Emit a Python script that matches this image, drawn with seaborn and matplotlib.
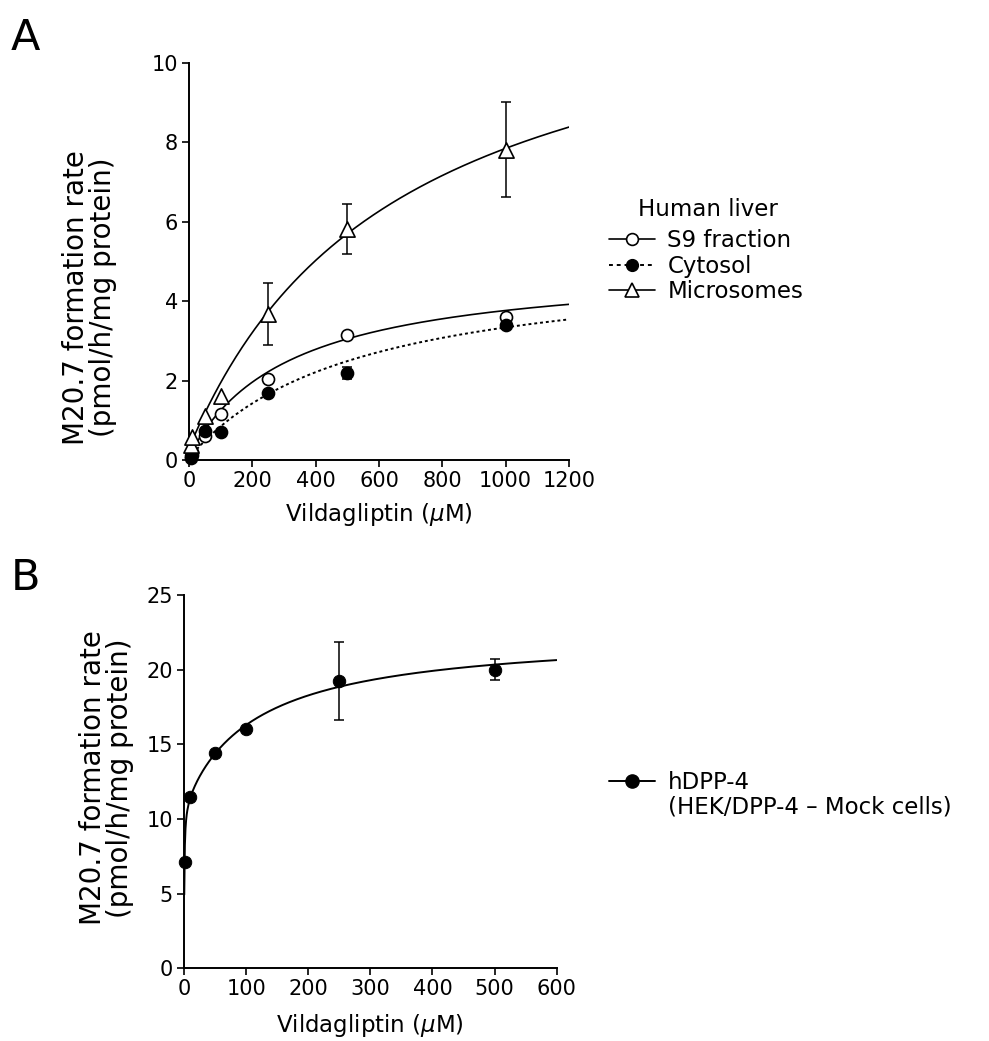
import numpy as np
import pandas as pd
import matplotlib
matplotlib.use("Agg")
import matplotlib.pyplot as plt
import seaborn as sns
from matplotlib.lines import Line2D

# ---------------- data ----------------
conc_A = [5, 10, 50, 100, 250, 500, 1000]
s9_rate = [0.10, 0.20, 0.60, 1.15, 2.03, 3.15, 3.60]
s9_err = [0, 0, 0, 0, 0, 0, 0.05]
cyto_rate = [0.05, 0.12, 0.73, 0.71, 1.70, 2.18, 3.40]
cyto_err = [0, 0, 0, 0, 0, 0.15, 0.10]
micro_rate = [0.37, 0.58, 1.12, 1.62, 3.68, 5.82, 7.82]
micro_err = [0, 0, 0, 0, 0.78, 0.63, 1.20]

conc_B = [1, 10, 50, 100, 250, 500]
dpp4_rate = [7.1, 11.5, 14.4, 16.05, 19.25, 20.0]
dpp4_err = [0, 0, 0, 0, 2.6, 0.7]

# fitted Michaelis-Menten parameters (baseline, Vmax, Km) for the fit lines
fit_s9 = (0.10, 4.84, 320.0)
fit_cyto = (0.05, 5.04, 532.0)
fit_micro = (0.30, 12.54, 661.0)
# two-site fit for hDPP-4 (Vmax1, Km1, Vmax2, Km2)
fit_dpp4 = (11.0, 0.5, 11.5, 115.0)

xticks_A = [0, 200, 400, 600, 800, 1000, 1200]
yticks_A = [0, 2, 4, 6, 8, 10]
xticks_B = [0, 100, 200, 300, 400, 500, 600]
yticks_B = [0, 5, 10, 15, 20, 25]

# ---------------- style ----------------
sns.set_theme(style="ticks")
plt.rcParams["font.family"] = ["DejaVu Sans"]
plt.rcParams["mathtext.fontset"] = "dejavusans"
plt.rcParams["axes.linewidth"] = 1.4
plt.rcParams["axes.edgecolor"] = "black"
plt.rcParams["text.color"] = "black"
plt.rcParams["axes.labelcolor"] = "black"
plt.rcParams["xtick.color"] = "black"
plt.rcParams["ytick.color"] = "black"

TICK_FS = 15
XLABEL_FS = 16.5
YLABEL_FS = 20
LEG_FS = 16.5

fig = plt.figure(figsize=(9.89, 10.41), dpi=100)
W, H = 989.0, 1041.0
axA = fig.add_axes([189 / W, 1 - 460 / H, 380 / W, 397 / H])
axB = fig.add_axes([184 / W, 1 - 968.3 / H, 372.7 / W, 373.3 / H])

# ---------------- panel A ----------------
xs = np.linspace(0, 1200, 300)
curves = []
for name, (b, v, k) in [("S9", fit_s9), ("Cyto", fit_cyto), ("Micro", fit_micro)]:
    curves.append(pd.DataFrame({"x": xs, "y": b + v * xs / (k + xs), "s": name}))
curve_df = pd.concat(curves)

sns.lineplot(data=curve_df[curve_df.s == "S9"], x="x", y="y", ax=axA,
             color="black", lw=1.2, legend=False)
sns.lineplot(data=curve_df[curve_df.s == "Micro"], x="x", y="y", ax=axA,
             color="black", lw=1.2, legend=False)
sns.lineplot(data=curve_df[curve_df.s == "Cyto"], x="x", y="y", ax=axA,
             color="black", lw=1.4, linestyle=(0, (1.5, 1.5)), legend=False)

ptsA = pd.DataFrame({"conc": conc_A * 3,
                     "rate": s9_rate + cyto_rate + micro_rate,
                     "err": s9_err + cyto_err + micro_err,
                     "frac": ["S9 fraction"] * 7 + ["Cytosol"] * 7 + ["Microsomes"] * 7})

for frac in ["S9 fraction", "Cytosol", "Microsomes"]:
    d = ptsA[ptsA.frac == frac]
    d = d[d.err > 0]
    axA.errorbar(d.conc, d.rate, yerr=d.err, fmt="none", ecolor="black",
                 elinewidth=1.1, capsize=3.5, capthick=1.1, zorder=3, clip_on=False)

mk_style = {"S9 fraction": ("o", "white", 75),
            "Cytosol": ("o", "black", 75),
            "Microsomes": ("^", "white", 120)}
for frac, (m, fc, s) in mk_style.items():
    d = ptsA[ptsA.frac == frac]
    sns.scatterplot(data=d, x="conc", y="rate", ax=axA, marker=m, s=s,
                    facecolor=fc, edgecolor="black", linewidth=1.2,
                    zorder=4, clip_on=False, legend=False)

axA.set_xlim(0, 1200)
axA.set_ylim(0, 10)
axA.set_xticks(xticks_A)
axA.set_yticks(yticks_A)
axA.set_xlabel(r"Vildagliptin ($\mu$M)", fontsize=XLABEL_FS, labelpad=7)
axA.set_ylabel("M20.7 formation rate\n(pmol/h/mg protein)", fontsize=YLABEL_FS,
               linespacing=0.95)
axA.yaxis.set_label_coords(-0.19, 0.41)

legA_handles = [
    Line2D([], [], color="black", lw=1.2, marker="o", markersize=8.5,
           markerfacecolor="white", markeredgecolor="black", markeredgewidth=1.2),
    Line2D([], [], color="black", lw=1.4, linestyle=(0, (2, 2)), marker="o",
           markersize=8.5, markerfacecolor="black", markeredgecolor="black"),
    Line2D([], [], color="black", lw=1.2, marker="^", markersize=10.5,
           markerfacecolor="white", markeredgecolor="black", markeredgewidth=1.2),
]
axA.legend(legA_handles, ["S9 fraction", "Cytosol", "Microsomes"],
           loc="upper left",
           bbox_to_anchor=(609 / W, 1 - 229 / H), bbox_transform=fig.transFigure,
           frameon=False, fontsize=LEG_FS,
           handlelength=2.0, handletextpad=0.55, labelspacing=0.12,
           borderaxespad=0, borderpad=0)
fig.text(708 / W, 1 - 210 / H, "Human liver", fontsize=LEG_FS,
         ha="center", va="center")

# ---------------- panel B ----------------
v1, k1, v2, k2 = fit_dpp4
xb = np.linspace(0.4, 600, 600)
curveB = pd.DataFrame({"x": xb, "y": v1 * xb / (k1 + xb) + v2 * xb / (k2 + xb)})
sns.lineplot(data=curveB, x="x", y="y", ax=axB, color="black", lw=1.4, legend=False)

ptsB = pd.DataFrame({"conc": conc_B, "rate": dpp4_rate, "err": dpp4_err})
dB = ptsB[ptsB.err > 0]
axB.errorbar(dB.conc, dB.rate, yerr=dB.err, fmt="none", ecolor="black",
             elinewidth=1.1, capsize=3.5, capthick=1.1, zorder=3)
sns.scatterplot(data=ptsB, x="conc", y="rate", ax=axB, marker="o", s=80,
                color="black", edgecolor="black", zorder=4, clip_on=False, legend=False)

axB.set_xlim(0, 600)
axB.set_ylim(0, 25)
axB.set_xticks(xticks_B)
axB.set_yticks(yticks_B)
axB.set_xlabel(r"Vildagliptin ($\mu$M)", fontsize=XLABEL_FS, labelpad=9)
axB.set_ylabel("M20.7 formation rate\n(pmol/h/mg protein)", fontsize=YLABEL_FS,
               linespacing=0.95)
axB.yaxis.set_label_coords(-0.135, 0.51)

legB_handles = [Line2D([], [], color="black", lw=1.4, marker="o", markersize=9.5,
                       markerfacecolor="black", markeredgecolor="black")]
axB.legend(legB_handles, ["hDPP-4"], loc="upper left",
           bbox_to_anchor=(609 / W, 1 - 771 / H), bbox_transform=fig.transFigure,
           frameon=False, fontsize=LEG_FS, handlelength=2.0, handletextpad=0.55,
           borderaxespad=0, borderpad=0)
fig.text(668 / W, 1 - 807 / H, "(HEK/DPP-4 \u2013 Mock cells)", fontsize=LEG_FS,
         ha="left", va="center")

for ax in (axA, axB):
    sns.despine(ax=ax)
    ax.tick_params(axis="both", direction="out", length=5, width=1.2,
                   labelsize=TICK_FS, pad=3, color="black", labelcolor="black")

fig.text(11 / W, 1 - 50 / H, "A", fontsize=31, ha="left", va="baseline")
fig.text(11 / W, 1 - 590 / H, "B", fontsize=31, ha="left", va="baseline")

fig.savefig("out.png", dpi=100, facecolor="white")
